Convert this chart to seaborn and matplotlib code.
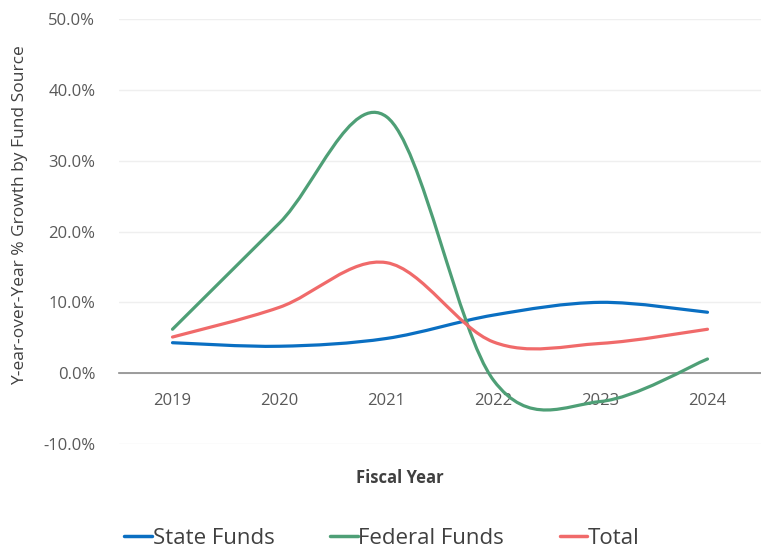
import matplotlib.pyplot as plt
import seaborn as sns
import numpy as np
import pandas as pd
from matplotlib.path import Path
from matplotlib.patches import PathPatch
from matplotlib.lines import Line2D
from matplotlib.ticker import FuncFormatter, MultipleLocator

# datos
years = ['2019', '2020', '2021', '2022', '2023', '2024']
state_funds = [4.3, 3.8, 4.9, 8.2, 10.0, 8.6]
federal_funds = [6.2, 21.2, 36.2, -1.0, -4.0, 2.0]
total = [5.1, 9.3, 15.6, 4.4, 4.2, 6.2]

series_names = ['State Funds', 'Federal Funds', 'Total']
colores = ['#0A6FC2', '#4E9F76', '#F06A6A']


def smooth_path(xs, ys):
    # curva suavizada tipo Excel (Bezier cubica, catmull-rom)
    n = len(xs)
    verts = [(xs[0], ys[0])]
    codes = [Path.MOVETO]
    for i in range(n - 1):
        p0 = (xs[max(i - 1, 0)], ys[max(i - 1, 0)])
        p1 = (xs[i], ys[i])
        p2 = (xs[i + 1], ys[i + 1])
        p3 = (xs[min(i + 2, n - 1)], ys[min(i + 2, n - 1)])
        c1 = (p1[0] + (p2[0] - p0[0]) / 6, p1[1] + (p2[1] - p0[1]) / 6)
        c2 = (p2[0] - (p3[0] - p1[0]) / 6, p2[1] - (p3[1] - p1[1]) / 6)
        verts += [c1, c2, p2]
        codes += [Path.CURVE4] * 3
    return Path(verts, codes)


df = pd.DataFrame({
    'idx': list(range(len(years))) * 3,
    'value': state_funds + federal_funds + total,
    'series': np.repeat(series_names, len(years)),
})

sns.set_theme(style='white')
plt.rcParams['font.family'] = ['Open Sans', 'DejaVu Sans']

fig = plt.figure(figsize=(7.61, 5.50), dpi=100)
ax = fig.add_axes([119 / 761, 106 / 550, 1 - 119 / 761, 425 / 550])

# escala con seaborn (invisible), las curvas se dibujan suavizadas
sns.lineplot(data=df, x='idx', y='value', hue='series', palette=colores,
             hue_order=series_names, linewidth=0, legend=False, ax=ax)

for name, col in zip(series_names, colores):
    sub = df[df['series'] == name]
    path = smooth_path(sub['idx'].tolist(), sub['value'].tolist())
    ax.add_patch(PathPatch(path, facecolor='none', edgecolor=col, lw=2.3,
                           capstyle='round', zorder=3))

ax.set_xlim(-0.5, len(years) - 0.5)
ax.set_ylim(-10, 50)
ax.yaxis.set_major_locator(MultipleLocator(10))
ax.yaxis.set_major_formatter(FuncFormatter(lambda v, p: f'{v:.1f}%'))
ax.grid(axis='y', color='#EFEFEF', lw=1)
ax.set_axisbelow(True)

for s in ['top', 'right', 'left']:
    ax.spines[s].set_visible(False)
ax.spines['bottom'].set_position(('data', 0))
ax.spines['bottom'].set_color('#8C8C8C')
ax.spines['bottom'].set_linewidth(1.2)

ax.set_xticks(range(len(years)))
ax.set_xticklabels(years)
ax.set_xticks(np.arange(-0.5, len(years)), minor=True)
ax.tick_params(axis='x', which='major', length=0, pad=14, labelsize=12, labelcolor='#595959')
ax.tick_params(axis='x', which='minor', length=5, width=1.2, color='#8C8C8C', direction='out')
ax.tick_params(axis='y', length=0, pad=17, labelsize=12, labelcolor='#595959')

ax.set_xlabel('')
ax.set_ylabel('')
fig.text(400 / 761, 1 - 478 / 550, 'Fiscal Year', ha='center', va='center',
         fontsize=12, fontweight='bold', color='#404040')
fig.text(20 / 761, 1 - 215 / 550, 'Y-ear-over-Year % Growth by Fund Source', rotation=90,
         ha='center', va='center', fontsize=12.5, color='#404040')

handles = [Line2D([0], [0], color=c, lw=2.5) for c in colores]
fig.legend(handles, series_names, loc='center', bbox_to_anchor=(382 / 761, 1 - 538 / 550),
           ncol=3, frameon=False, fontsize=16, handlelength=1.25, handletextpad=0.02,
           columnspacing=2.5, labelcolor='#404040')

plt.savefig('out.png', dpi=100)
